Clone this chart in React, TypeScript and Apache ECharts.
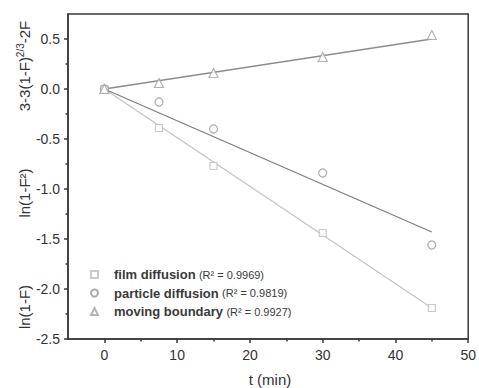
import React, { useEffect, useRef } from "react";
import * as echarts from "echarts";

const times = [0, 7.5, 15, 30, 45];
const filmDiffusion = [0, -0.39, -0.77, -1.44, -2.19];
const particleDiffusion = [0, -0.13, -0.4, -0.84, -1.56];
const movingBoundary = [0, 0.06, 0.16, 0.32, 0.54];

const fitTimes = [0, 45];
const filmFit = [0, -2.19];
const particleFit = [0, -1.43];
const movingFit = [0, 0.5];

const seriesNames = ["film diffusion", "particle diffusion", "moving boundary"];
const rSquared = ["0.9969", "0.9819", "0.9927"];

const xMajorTicks = [0, 10, 20, 30, 40, 50];
const xMinorTicks = [5, 15, 25, 35, 45];
const yMajorTicks = [-2.5, -2.0, -1.5, -1.0, -0.5, 0.0, 0.5];
const yMinorTicks = [-2.25, -1.75, -1.25, -0.75, -0.25, 0.25];

const FONT = "'Liberation Sans', Arial, sans-serif";
const AXIS_COLOR = "#3a3a3a";

function pairs(xs: number[], ys: number[]) {
  return xs.map((x, i) => [x, ys[i]]);
}

export default function App() {
  const ref = useRef<HTMLDivElement>(null);
  useEffect(() => {
    if (!ref.current) return;
    const chart = echarts.init(ref.current, undefined, { renderer: "svg" });
    const lineStyleAxis = { color: AXIS_COLOR, width: 1.5 };
    const xRange = { min: -5, max: 50 };
    const yRange = { min: -2.5, max: 0.75 };
    const colors = {
      film: { marker: "#bdbdbd", line: "#c4c4c4" },
      particle: { marker: "#959595", line: "#7f7f7f" },
      moving: { marker: "#a0a0a0", line: "#8c8c8c" },
    };
    chart.setOption({
      animation: false,
      backgroundColor: "#fff",
      grid: {
        left: 68,
        top: 14,
        right: 8,
        bottom: 49,
        show: true,
        borderColor: AXIS_COLOR,
        borderWidth: 1.5,
      },
      xAxis: [
        {
          type: "value",
          ...xRange,
          position: "bottom",
          axisLine: { show: true, onZero: false, lineStyle: lineStyleAxis },
          axisTick: { show: true, customValues: xMajorTicks, length: 4, lineStyle: lineStyleAxis },
          axisLabel: {
            customValues: xMajorTicks,
            margin: 9,
            fontSize: 14,
            fontFamily: FONT,
            color: "#333",
            formatter: (v: number) => String(v),
          },
          splitLine: { show: false },
        },
        {
          type: "value",
          ...xRange,
          position: "bottom",
          axisLine: { show: false, onZero: false },
          axisTick: { show: true, customValues: xMinorTicks, length: 2.5, lineStyle: lineStyleAxis },
          axisLabel: { show: false },
          splitLine: { show: false },
        },
      ],
      yAxis: [
        {
          type: "value",
          ...yRange,
          position: "left",
          axisLine: { show: true, onZero: false, lineStyle: lineStyleAxis },
          axisTick: { show: true, customValues: yMajorTicks, length: 4, lineStyle: lineStyleAxis },
          axisLabel: {
            customValues: yMajorTicks,
            margin: 8,
            fontSize: 14,
            fontFamily: FONT,
            color: "#333",
            formatter: (v: number) => v.toFixed(1),
          },
          splitLine: { show: false },
        },
        {
          type: "value",
          ...yRange,
          position: "left",
          axisLine: { show: false, onZero: false },
          axisTick: { show: true, customValues: yMinorTicks, length: 2.5, lineStyle: lineStyleAxis },
          axisLabel: { show: false },
          splitLine: { show: false },
        },
      ],
      legend: {
        left: 90,
        top: 268,
        padding: 0,
        orient: "vertical",
        itemWidth: 7,
        itemHeight: 7,
        itemGap: 5.5,
        data: seriesNames,
        formatter: (name: string) => {
          const i = seriesNames.indexOf(name);
          return `{n|${name}} {r|(R² = ${rSquared[i]})}`;
        },
        textStyle: {
          rich: {
            n: {
              fontSize: 13,
              fontWeight: "bold",
              fontFamily: FONT,
              color: "#3a3a3a",
              padding: [0, 0, 0, 11],
              lineHeight: 14,
            },
            r: {
              fontSize: 11,
              fontFamily: FONT,
              color: "#3a3a3a",
              lineHeight: 14,
            },
          },
        },
      },
      graphic: [
        {
          type: "text",
          x: 24,
          y: 66,
          rotation: Math.PI / 2,
          style: {
            text: "{a|3-3(1-F)}{s|2/3}{a|-2F}",
            align: "center",
            verticalAlign: "middle",
            rich: {
              a: { fontSize: 15, fontFamily: FONT, fill: "#333", lineHeight: 18 },
              s: { fontSize: 10, fontFamily: FONT, fill: "#333", verticalAlign: "top", lineHeight: 18 },
            },
          },
        },
        {
          type: "text",
          x: 24,
          y: 193,
          rotation: Math.PI / 2,
          style: {
            text: "ln(1-F²)",
            align: "center",
            verticalAlign: "middle",
            fontSize: 15,
            fontFamily: FONT,
            fill: "#333",
          },
        },
        {
          type: "text",
          x: 24,
          y: 307,
          rotation: Math.PI / 2,
          style: {
            text: "ln(1-F)",
            align: "center",
            verticalAlign: "middle",
            fontSize: 15,
            fontFamily: FONT,
            fill: "#333",
          },
        },
        {
          type: "text",
          x: 270,
          y: 379,
          style: {
            text: "t (min)",
            align: "center",
            verticalAlign: "middle",
            fontSize: 15,
            fontFamily: FONT,
            fill: "#333",
          },
        },
      ],
      series: [
        {
          name: "film fit",
          type: "line",
          data: pairs(fitTimes, filmFit),
          symbol: "none",
          lineStyle: { color: colors.film.line, width: 1.3 },
          z: 1,
        },
        {
          name: "particle fit",
          type: "line",
          data: pairs(fitTimes, particleFit),
          symbol: "none",
          lineStyle: { color: colors.particle.line, width: 1.3 },
          z: 1,
        },
        {
          name: "moving fit",
          type: "line",
          data: pairs(fitTimes, movingFit),
          symbol: "none",
          lineStyle: { color: colors.moving.line, width: 1.3 },
          z: 1,
        },
        {
          name: seriesNames[0],
          type: "scatter",
          data: pairs(times, filmDiffusion),
          symbol: "rect",
          symbolSize: 7,
          itemStyle: { color: "#fff", borderColor: colors.film.marker, borderWidth: 1.2 },
          z: 3,
        },
        {
          name: seriesNames[1],
          type: "scatter",
          data: pairs(times, particleDiffusion),
          symbol: "circle",
          symbolSize: 8,
          itemStyle: { color: "#fff", borderColor: colors.particle.marker, borderWidth: 1.2 },
          z: 3,
        },
        {
          name: seriesNames[2],
          type: "scatter",
          data: pairs(times, movingBoundary),
          symbol: "triangle",
          symbolSize: 9,
          itemStyle: { color: "#fff", borderColor: colors.moving.marker, borderWidth: 1.2 },
          z: 3,
        },
      ],
    });
    return () => chart.dispose();
  }, []);
  return <div ref={ref} style={{ width: 479, height: 388, position: "absolute", left: 0, top: 0 }} />;
}
